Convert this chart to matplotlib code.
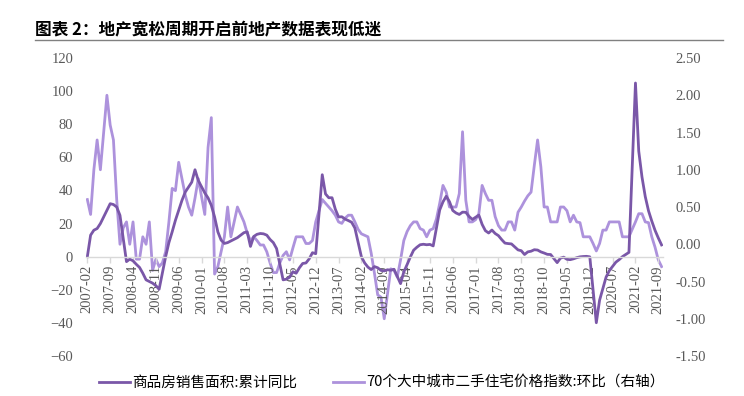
import numpy as np
import pandas as pd
import matplotlib
matplotlib.use("Agg")
import matplotlib.pyplot as plt
from matplotlib.lines import Line2D

plt.rcParams["font.family"] = ["Noto Sans CJK SC", "DejaVu Sans"]

nan = np.nan

# monthly categories, 2007-02 .. 2021-10
months = pd.period_range("2007-02", "2021-10", freq="M").strftime("%Y-%m").tolist()

# 商品房销售面积:累计同比 (%), January not published
sales_area_yoy = [
    0, 13, 16, 17, 20, 24, 28, 32, 31.5, 30, 25,                            # 2007 Feb-Dec
    nan, -3, -1.5, -2.5, -4.6, -6.5, -10, -14, -15, -16, -17.5, -19.7,      # 2008
    nan, 0, 8.5, 15, 22, 28, 34, 39, 42, 45, 52.5, 46,                      # 2009
    nan, 38.5, 35.5, 31, 24, 15, 10, 8, 8.5, 9.5, 10.5, 11.5,               # 2010
    nan, 14.5, 15, 6.2, 12.2, 13.5, 14, 13.8, 13, 10.4, 8.5, 4.9,           # 2011
    nan, -14.0, -13.6, -12.4, -9.1, -10.0, -6.7, -4.1, -3.8, -1.3, 2.4, 1.8,  # 2012
    nan, 49.5, 37.9, 35.6, 35.6, 28.7, 24.0, 24.1, 22.7, 21.8, 20.8, 17.3,  # 2013
    nan, -0.1, -3.8, -6.3, -7.8, -6.0, -6.7, -8.3, -8.6, -7.9, -8.2, -7.6,  # 2014
    nan, -16.3, -9.2, -4.8, -0.2, 3.9, 5.7, 7.2, 7.5, 7.2, 7.4, 6.5,        # 2015
    nan, 28.2, 33.1, 36.5, 33.2, 27.9, 26.4, 25.5, 26.9, 26.8, 24.3, 22.5,  # 2016
    nan, 25.1, 19.5, 15.7, 14.3, 16.1, 14.0, 12.7, 10.3, 8.2, 7.9, 7.7,     # 2017
    nan, 4.1, 3.6, 1.3, 2.9, 3.3, 4.2, 4.0, 2.9, 2.2, 1.4, 1.3,             # 2018
    nan, -3.6, -0.9, -0.3, -1.6, -1.8, -1.3, -0.6, -0.1, 0.1, 0.2, -0.1,    # 2019
    nan, -39.9, -26.3, -19.3, -12.3, -8.4, -5.8, -3.3, -1.8, 0.0, 1.3, 2.6, # 2020
    nan, 104.9, 63.8, 48.1, 36.3, 27.7, 21.5, 15.9, 11.3, 7.1,              # 2021 Jan-Oct
]

# 70个大中城市二手住宅价格指数:环比 (%)
resale_price_mom = [
    0.6, 0.4, 1.0, 1.4, 1.0, 1.5, 2.0, 1.6, 1.4, 0.6, 0.0,                  # 2007 Feb-Dec
    0.22, 0.3, 0.0, 0.3, -0.2, -0.2, 0.1, 0.0, 0.3, -0.35, -0.2, -0.3,      # 2008
    -0.25, -0.1, 0.3, 0.75, 0.72, 1.1, 0.88, 0.66, 0.5, 0.39, 0.62, 0.88,   # 2009
    0.64, 0.4, 1.3, 1.7, -0.4, -0.3, -0.1, 0.1, 0.5, 0.1, 0.3, 0.5,         # 2010
    0.4, 0.3, 0.15, 0.05, 0.1, 0.05, -0.01, -0.01, -0.1, -0.25, -0.38, -0.38,  # 2011
    -0.25, -0.15, -0.1, -0.21, -0.05, 0.1, 0.1, 0.1, 0.01, 0.01, 0.05, 0.3,    # 2012
    0.45, 0.6, 0.55, 0.5, 0.45, 0.39, 0.3, 0.28, 0.35, 0.39, 0.39, 0.3,     # 2013
    0.2, 0.14, 0.12, 0.1, -0.12, -0.39, -0.68, -0.71, -1.0, -0.66, -0.33, -0.35,  # 2014
    -0.44, -0.21, 0.05, 0.17, 0.25, 0.3, 0.3, 0.21, 0.19, 0.1, 0.19, 0.21,  # 2015
    0.34, 0.55, 0.79, 0.7, 0.5, 0.5, 0.5, 0.68, 1.51, 0.59, 0.3, 0.3,       # 2016
    0.33, 0.41, 0.79, 0.68, 0.59, 0.59, 0.37, 0.25, 0.19, 0.19, 0.3, 0.3,   # 2017
    0.19, 0.43, 0.5, 0.58, 0.65, 0.7, 1.06, 1.4, 1.04, 0.5, 0.5, 0.3,       # 2018
    0.3, 0.3, 0.5, 0.5, 0.45, 0.3, 0.39, 0.3, 0.29, 0.1, 0.1, 0.1,          # 2019
    0.01, -0.09, 0.01, 0.19, 0.19, 0.3, 0.3, 0.3, 0.3, 0.1, 0.1, 0.1,       # 2020
    0.2, 0.3, 0.41, 0.41, 0.3, 0.29, 0.1, -0.04, -0.21, -0.3,               # 2021 Jan-Oct
]

legend_labels = ["商品房销售面积:累计同比", "70个大中城市二手住宅价格指数:环比（右轴）"]
title = "图表 2：地产宽松周期开启前地产数据表现低迷"

DARK = "#7A57A8"
LIGHT = "#AD92DC"
GREY = "#595959"

x = np.arange(len(months))
d = np.array(sales_area_yoy, dtype=float)
ok = ~np.isnan(d)

fig = plt.figure(figsize=(7.44, 3.96), dpi=100)
ax = fig.add_axes([0.1152, 0.101, 0.7762, 0.7525])
ax2 = ax.twinx()

l2, = ax2.plot(x, resale_price_mom, color=LIGHT, lw=2.0)
l1, = ax.plot(x[ok], d[ok], color=DARK, lw=2.0)
ax.set_zorder(ax2.get_zorder() + 1)
ax.patch.set_visible(False)

ax.set_xlim(-0.5, len(months) - 0.5)
ax.set_ylim(-60, 120)
ax.set_yticks(range(-60, 121, 20))
ax2.set_ylim(-1.5, 2.5)
ax2.set_yticks(np.arange(-1.5, 2.51, 0.5))
ax2.set_yticklabels([f"{v:.2f}" for v in np.arange(-1.5, 2.51, 0.5)])

ax.set_xticks(x[::7])
ax.set_xticklabels(months[::7])

for s in ["top", "left", "right"]:
    ax.spines[s].set_visible(False)
for s in ax2.spines.values():
    s.set_visible(False)
ax.spines["bottom"].set_position(("data", 0))
ax.spines["bottom"].set_color("#d9d9d9")
ax.spines["bottom"].set_linewidth(1.0)

ax.tick_params(axis="y", length=0, pad=9, labelsize=10.5, labelcolor=GREY)
ax2.tick_params(axis="y", length=0, pad=9, labelsize=10.5, labelcolor=GREY)
ax.tick_params(axis="x", length=4, width=1, color="#d9d9d9", pad=2,
               labelsize=10.5, labelcolor=GREY, labelrotation=90)
for lab in ax.get_xticklabels() + ax.get_yticklabels() + ax2.get_yticklabels():
    lab.set_family("Liberation Serif")

fig.text(0.047, 0.924, title, fontsize=12, weight="bold", va="center", ha="left")
fig.add_artist(Line2D([0.047, 0.972], [0.899, 0.899], color="#808080", lw=1.0,
                      transform=fig.transFigure))

fig.legend([l1, l2], legend_labels, loc="center", bbox_to_anchor=(0.513, 0.033),
           ncol=2, frameon=False, fontsize=10.5, handlelength=2.1,
           handletextpad=0.15, columnspacing=2.5)

fig.savefig("out.png", dpi=100)
